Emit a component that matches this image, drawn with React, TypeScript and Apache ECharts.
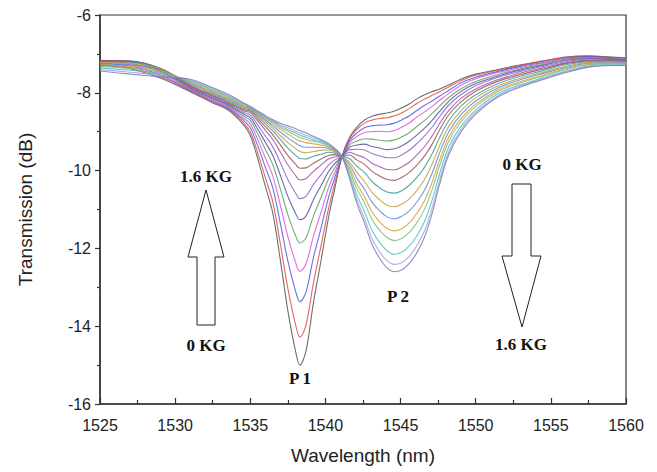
import React, { useEffect, useRef } from "react";
import * as echarts from "echarts";

const wavelengths = [1525, 1527, 1529, 1531, 1532.5, 1533.5, 1534.5, 1535, 1535.5, 1536, 1536.5, 1537, 1537.5, 1538, 1538.3, 1538.7, 1539.2, 1539.7, 1540.2, 1540.6, 1541.1, 1541.6, 1542.1, 1542.6, 1543.1, 1543.6, 1544.1, 1544.6, 1545.1, 1545.6, 1546.1, 1546.6, 1547.1, 1547.6, 1548.2, 1549, 1550, 1551.5, 1553, 1554.5, 1556, 1557.5, 1559, 1560];

const fieldLabels = ["0 KG", "0.1 KG", "0.2 KG", "0.3 KG", "0.4 KG", "0.5 KG", "0.6 KG", "0.7 KG", "0.8 KG", "0.9 KG", "1.0 KG", "1.1 KG", "1.2 KG", "1.3 KG", "1.4 KG", "1.5 KG", "1.6 KG"];

const s00 = [-7.30, -7.38, -7.62, -7.97, -8.26, -8.44, -8.80, -9.10, -9.70, -10.40, -11.10, -12.30, -13.60, -14.62, -15.00, -14.65, -13.40, -12.33, -11.22, -10.50, -9.64, -9.15, -8.88, -8.70, -8.60, -8.55, -8.52, -8.47, -8.38, -8.28, -8.15, -8.05, -7.97, -7.90, -7.80, -7.65, -7.52, -7.40, -7.28, -7.18, -7.08, -7.05, -7.08, -7.10];
const s01 = [-7.28, -7.35, -7.58, -7.95, -8.24, -8.41, -8.75, -9.01, -9.55, -10.18, -10.81, -11.88, -13.03, -13.94, -14.28, -13.98, -12.89, -11.95, -10.99, -10.37, -9.64, -9.18, -8.94, -8.78, -8.70, -8.66, -8.64, -8.59, -8.51, -8.40, -8.27, -8.16, -8.06, -7.97, -7.85, -7.69, -7.55, -7.42, -7.30, -7.19, -7.09, -7.06, -7.09, -7.11];
const s02 = [-7.25, -7.31, -7.54, -7.93, -8.21, -8.39, -8.69, -8.90, -9.37, -9.91, -10.45, -11.35, -12.32, -13.08, -13.37, -13.13, -12.24, -11.49, -10.70, -10.21, -9.64, -9.23, -9.03, -8.90, -8.85, -8.83, -8.82, -8.78, -8.69, -8.59, -8.45, -8.32, -8.21, -8.08, -7.94, -7.75, -7.60, -7.45, -7.32, -7.22, -7.11, -7.07, -7.10, -7.12];
const s03 = [-7.22, -7.27, -7.50, -7.91, -8.19, -8.36, -8.64, -8.80, -9.21, -9.67, -10.14, -10.89, -11.70, -12.34, -12.59, -12.40, -11.69, -11.08, -10.45, -10.07, -9.64, -9.28, -9.12, -9.02, -9.00, -8.99, -9.00, -8.97, -8.88, -8.77, -8.62, -8.49, -8.35, -8.19, -8.02, -7.81, -7.64, -7.48, -7.35, -7.24, -7.13, -7.09, -7.11, -7.12];
const s04 = [-7.20, -7.24, -7.46, -7.89, -8.16, -8.34, -8.59, -8.71, -9.06, -9.45, -9.85, -10.47, -11.13, -11.66, -11.86, -11.73, -11.17, -10.70, -10.22, -9.94, -9.64, -9.34, -9.24, -9.18, -9.19, -9.22, -9.24, -9.21, -9.13, -9.02, -8.86, -8.71, -8.53, -8.34, -8.12, -7.90, -7.71, -7.53, -7.38, -7.27, -7.15, -7.10, -7.12, -7.14];
const s05 = [-7.18, -7.21, -7.43, -7.87, -8.14, -8.31, -8.54, -8.64, -8.94, -9.27, -9.61, -10.12, -10.66, -11.09, -11.26, -11.17, -10.75, -10.39, -10.03, -9.83, -9.64, -9.40, -9.34, -9.32, -9.38, -9.42, -9.46, -9.44, -9.36, -9.24, -9.08, -8.91, -8.71, -8.48, -8.22, -7.97, -7.76, -7.57, -7.41, -7.29, -7.17, -7.12, -7.13, -7.15];
const s06 = [-7.17, -7.19, -7.40, -7.85, -8.11, -8.29, -8.50, -8.57, -8.83, -9.11, -9.39, -9.80, -10.23, -10.57, -10.72, -10.66, -10.36, -10.11, -9.86, -9.73, -9.64, -9.46, -9.45, -9.47, -9.56, -9.62, -9.67, -9.67, -9.59, -9.47, -9.30, -9.11, -8.88, -8.61, -8.32, -8.05, -7.82, -7.60, -7.45, -7.32, -7.20, -7.13, -7.14, -7.16];
const s07 = [-7.17, -7.18, -7.38, -7.83, -8.09, -8.26, -8.46, -8.51, -8.73, -8.96, -9.20, -9.52, -9.85, -10.12, -10.24, -10.21, -10.02, -9.86, -9.70, -9.65, -9.64, -9.53, -9.60, -9.67, -9.81, -9.90, -9.97, -9.98, -9.90, -9.78, -9.59, -9.38, -9.11, -8.79, -8.46, -8.15, -7.90, -7.66, -7.49, -7.36, -7.23, -7.16, -7.16, -7.17];
const s08 = [-7.18, -7.19, -7.37, -7.81, -8.07, -8.24, -8.43, -8.47, -8.67, -8.87, -9.08, -9.34, -9.61, -9.83, -9.94, -9.93, -9.81, -9.70, -9.61, -9.59, -9.64, -9.60, -9.73, -9.84, -10.02, -10.14, -10.23, -10.25, -10.17, -10.04, -9.85, -9.62, -9.32, -8.95, -8.57, -8.24, -7.96, -7.70, -7.53, -7.39, -7.25, -7.18, -7.18, -7.19];
const s09 = [-7.20, -7.21, -7.37, -7.79, -8.04, -8.21, -8.40, -8.44, -8.62, -8.80, -8.98, -9.20, -9.42, -9.60, -9.69, -9.70, -9.63, -9.58, -9.53, -9.55, -9.64, -9.69, -9.89, -10.05, -10.28, -10.44, -10.55, -10.58, -10.51, -10.37, -10.17, -9.91, -9.57, -9.15, -8.72, -8.35, -8.05, -7.76, -7.57, -7.43, -7.28, -7.20, -7.19, -7.20];
const s10 = [-7.22, -7.24, -7.38, -7.77, -8.02, -8.18, -8.38, -8.42, -8.58, -8.74, -8.91, -9.10, -9.28, -9.43, -9.51, -9.54, -9.51, -9.48, -9.47, -9.52, -9.64, -9.78, -10.05, -10.28, -10.56, -10.75, -10.89, -10.93, -10.86, -10.72, -10.50, -10.22, -9.83, -9.36, -8.87, -8.47, -8.13, -7.82, -7.62, -7.47, -7.32, -7.22, -7.21, -7.22];
const s11 = [-7.25, -7.28, -7.40, -7.75, -7.99, -8.16, -8.35, -8.40, -8.55, -8.70, -8.85, -9.01, -9.16, -9.29, -9.36, -9.40, -9.40, -9.40, -9.43, -9.49, -9.64, -9.85, -10.20, -10.48, -10.81, -11.03, -11.19, -11.24, -11.17, -11.03, -10.80, -10.50, -10.07, -9.54, -9.01, -8.57, -8.21, -7.87, -7.66, -7.50, -7.35, -7.24, -7.23, -7.23];
const s12 = [-7.28, -7.32, -7.43, -7.73, -7.97, -8.13, -8.33, -8.38, -8.53, -8.66, -8.80, -8.94, -9.06, -9.18, -9.24, -9.28, -9.31, -9.34, -9.39, -9.47, -9.64, -9.93, -10.35, -10.67, -11.06, -11.31, -11.49, -11.55, -11.49, -11.34, -11.09, -10.77, -10.30, -9.73, -9.14, -8.67, -8.29, -7.92, -7.71, -7.54, -7.38, -7.27, -7.24, -7.25];
const s13 = [-7.32, -7.37, -7.47, -7.71, -7.94, -8.11, -8.31, -8.37, -8.51, -8.63, -8.76, -8.89, -8.99, -9.09, -9.15, -9.20, -9.25, -9.29, -9.36, -9.45, -9.64, -10.00, -10.47, -10.83, -11.26, -11.53, -11.72, -11.80, -11.74, -11.58, -11.33, -10.99, -10.49, -9.87, -9.25, -8.75, -8.35, -7.96, -7.74, -7.57, -7.40, -7.28, -7.26, -7.26];
const s14 = [-7.36, -7.42, -7.51, -7.69, -7.92, -8.08, -8.29, -8.37, -8.50, -8.62, -8.74, -8.85, -8.95, -9.03, -9.09, -9.14, -9.21, -9.26, -9.34, -9.44, -9.64, -10.09, -10.63, -11.06, -11.54, -11.84, -12.06, -12.15, -12.09, -11.93, -11.67, -11.30, -10.76, -10.08, -9.40, -8.87, -8.44, -8.02, -7.79, -7.61, -7.44, -7.31, -7.28, -7.28];
const s15 = [-7.40, -7.47, -7.55, -7.67, -7.89, -8.06, -8.27, -8.36, -8.48, -8.60, -8.71, -8.82, -8.90, -8.98, -9.03, -9.09, -9.16, -9.23, -9.32, -9.43, -9.64, -10.15, -10.76, -11.23, -11.75, -12.08, -12.32, -12.41, -12.36, -12.20, -11.92, -11.54, -10.96, -10.24, -9.52, -8.96, -8.50, -8.07, -7.82, -7.64, -7.46, -7.33, -7.29, -7.29];
const s16 = [-7.44, -7.52, -7.59, -7.65, -7.87, -8.03, -8.25, -8.35, -8.47, -8.58, -8.69, -8.78, -8.85, -8.92, -8.97, -9.03, -9.12, -9.20, -9.30, -9.42, -9.64, -10.20, -10.85, -11.35, -11.90, -12.25, -12.50, -12.60, -12.55, -12.38, -12.10, -11.70, -11.10, -10.35, -9.60, -9.02, -8.55, -8.10, -7.85, -7.66, -7.48, -7.34, -7.30, -7.30];

const seriesValues = [s00, s01, s02, s03, s04, s05, s06, s07, s08, s09, s10, s11, s12, s13, s14, s15, s16];

const lineColors = ["#555555", "#e04a44", "#4a5ae0", "#e050e0", "#5aa05a", "#50509e", "#8a60d0", "#a050a0", "#9a5050", "#3a9a9a", "#c0a040", "#5a8ae0", "#e0962e", "#7ac07a", "#4ac0c0", "#a4a0e0", "#7a7aae"];

const xTicks = { min: 1525, max: 1560, interval: 5 };
const yTicks = { min: -16, max: -6, interval: 2 };

const annotationTexts = [
  { text: "1.6 KG", x: 206, y: 176 },
  { text: "0 KG", x: 206, y: 345 },
  { text: "P 1", x: 300, y: 378 },
  { text: "P 2", x: 398, y: 296 },
  { text: "0 KG", x: 522, y: 164 },
  { text: "1.6 KG", x: 521, y: 344 },
];

export default function App() {
  const ref = useRef<HTMLDivElement>(null);
  useEffect(() => {
    if (!ref.current) return;
    const chart = echarts.init(ref.current, undefined, { renderer: "svg" });
    const axisFont = '"Liberation Sans", Arial, sans-serif';
    const serifFont = '"Liberation Serif", "Times New Roman", serif';
    const series = seriesValues.map((vals, k) => ({
      name: fieldLabels[k],
      type: "line",
      data: wavelengths.map((w, i) => [w, vals[i]]),
      showSymbol: false,
      smooth: 0.35,
      lineStyle: { width: 1.1, color: lineColors[k], opacity: 0.85 },
      itemStyle: { color: lineColors[k] },
      emphasis: { disabled: true },
      z: 2,
    }));
    const graphic: any[] = [
      {
        type: "polygon",
        shape: { points: [[206, 190], [224, 257], [215, 257], [215, 325], [197, 325], [197, 257], [188, 257]] },
        style: { fill: "#ffffff", stroke: "#222222", lineWidth: 1 },
        z: 10,
      },
      {
        type: "polygon",
        shape: { points: [[512, 184], [531, 184], [531, 256], [541, 256], [522, 327], [502, 256], [512, 256]] },
        style: { fill: "#ffffff", stroke: "#222222", lineWidth: 1 },
        z: 10,
      },
      ...annotationTexts.map((t) => ({
        type: "text",
        x: t.x,
        y: t.y,
        z: 11,
        style: {
          text: t.text,
          fill: "#111111",
          fontSize: 17,
          fontWeight: "bold",
          fontFamily: serifFont,
          align: "center",
          verticalAlign: "middle",
        },
      })),
    ];
    chart.setOption({
      animation: false,
      backgroundColor: "#ffffff",
      grid: {
        left: 100,
        right: 31,
        top: 15,
        bottom: 68,
        show: true,
        borderColor: "#333333",
        borderWidth: 1.2,
        backgroundColor: "transparent",
      },
      xAxis: {
        type: "value",
        min: xTicks.min,
        max: xTicks.max,
        interval: xTicks.interval,
        name: "Wavelength (nm)",
        nameLocation: "middle",
        nameGap: 42,
        nameTextStyle: { fontSize: 19, fontFamily: axisFont, color: "#222" },
        axisLine: { lineStyle: { color: "#333333", width: 1.5 } },
        axisTick: { inside: true, length: 6, lineStyle: { color: "#333333", width: 1.2 } },
        minorTick: { show: true, splitNumber: 2, length: 4, lineStyle: { color: "#333333", width: 1.2 } },
        axisLabel: {
          fontSize: 16,
          fontFamily: axisFont,
          color: "#222",
          margin: 13,
          formatter: (v: number) => String(v),
        },
        splitLine: { show: false },
      },
      yAxis: {
        type: "value",
        min: yTicks.min,
        max: yTicks.max,
        interval: yTicks.interval,
        name: "Transmission (dB)",
        nameLocation: "middle",
        nameGap: 65,
        nameTextStyle: { fontSize: 19, fontFamily: axisFont, color: "#222" },
        axisLine: { show: true, lineStyle: { color: "#333333", width: 1.5 } },
        axisTick: { show: true, inside: false, length: 5, lineStyle: { color: "#333333", width: 1.2 } },
        minorTick: { show: true, splitNumber: 2, length: 3, lineStyle: { color: "#333333", width: 1.2 } },
        axisLabel: {
          fontSize: 16,
          fontFamily: axisFont,
          color: "#222",
          margin: 9,
          formatter: (v: number) => String(v),
        },
        splitLine: { show: false },
      },
      series,
      graphic,
    });
    return () => chart.dispose();
  }, []);
  return (
    <div
      ref={ref}
      style={{ position: "fixed", left: 0, top: 0, width: 657, height: 472, background: "#fff" }}
    />
  );
}
